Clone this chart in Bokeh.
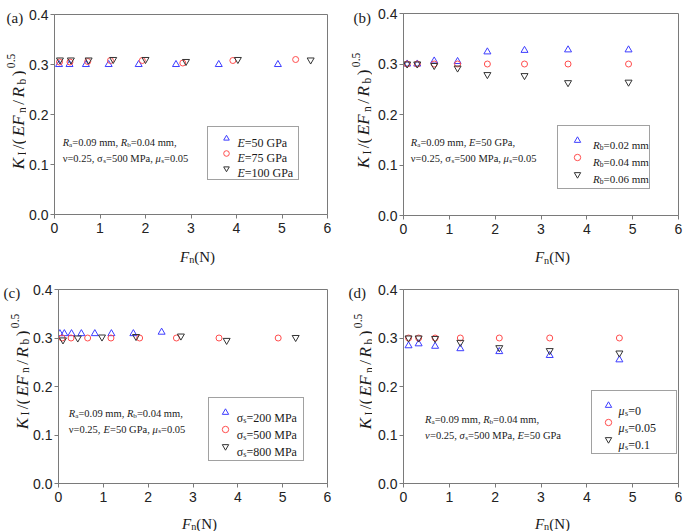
import math
from bokeh.plotting import figure
from bokeh.models import Label, Legend, LegendItem, Range1d, FixedTicker
from bokeh.layouts import column, row
from bokeh.embed import file_html
from bokeh.resources import INLINE
from bokeh.core.properties import value

# ---------------- data ----------------
X_TICKS = [0, 1, 2, 3, 4, 5, 6]
Y_TICKS = [0.0, 0.1, 0.2, 0.3, 0.4]
Y_TICK_LABELS = ["0.0", "0.1", "0.2", "0.3", "0.4"]

# (a) effect of E
a_x_e50 = [0.10, 0.33, 0.69, 1.19, 1.85, 2.67, 3.61, 4.91]
a_y_e50 = [0.300, 0.300, 0.300, 0.300, 0.300, 0.300, 0.300, 0.300]
a_x_e75 = [0.11, 0.34, 0.73, 1.23, 1.93, 2.82, 3.92, 5.30]
a_y_e75 = [0.305, 0.305, 0.306, 0.308, 0.308, 0.303, 0.308, 0.310]
a_x_e100 = [0.12, 0.36, 0.75, 1.29, 2.00, 2.89, 4.03, 5.63]
a_y_e100 = [0.309, 0.309, 0.309, 0.310, 0.310, 0.306, 0.310, 0.309]

# (b) effect of Rb
b_x = [0.08, 0.30, 0.67, 1.18, 1.83, 2.64, 3.59, 4.91]
b_y_002 = [0.300, 0.300, 0.306, 0.305, 0.324, 0.327, 0.328, 0.328]
b_y_004 = [0.300, 0.300, 0.300, 0.300, 0.300, 0.300, 0.300, 0.300]
b_y_006 = [0.300, 0.300, 0.297, 0.292, 0.279, 0.277, 0.263, 0.264]

# (c) effect of sigma_s
c_x_200 = [0.03, 0.13, 0.29, 0.51, 0.81, 1.18, 1.67, 2.30]
c_y_200 = [0.309, 0.309, 0.309, 0.309, 0.309, 0.309, 0.309, 0.312]
c_x_500 = [0.08, 0.28, 0.65, 1.17, 1.81, 2.63, 3.58, 4.90]
c_y_500 = [0.300, 0.300, 0.300, 0.300, 0.300, 0.300, 0.300, 0.300]
c_x_800 = [0.10, 0.43, 0.97, 1.73, 2.73, 3.75, 5.29]
c_y_800 = [0.296, 0.300, 0.302, 0.303, 0.304, 0.295, 0.301]

# (d) effect of mu_s
d_x = [0.11, 0.33, 0.69, 1.24, 2.09, 3.19, 4.71]
d_y_0 = [0.284, 0.288, 0.283, 0.278, 0.272, 0.264, 0.255]
d_y_005 = [0.300, 0.300, 0.300, 0.300, 0.300, 0.300, 0.300]
d_y_01 = [0.300, 0.300, 0.299, 0.291, 0.280, 0.274, 0.269]

# ---------------- style ----------------
BLUE = "#3d3dff"
RED = "#ff4d4d"
DARK = "#333333"
INK = "#1a1a1a"
FRAME = "#7a7a7a"
SERIF = "Liberation Serif"
SANS = "Liberation Sans"

REG = {' ': 0.25, '(': 0.333, ')': 0.333, ',': 0.25, '.': 0.25, '/': 0.278, '=': 0.564,
       'A': 0.722, 'E': 0.611, 'F': 0.556, 'G': 0.722, 'I': 0.333, 'K': 0.722, 'M': 0.889,
       'N': 0.722, 'P': 0.556, 'R': 0.667, 'a': 0.444, 'b': 0.5, 'c': 0.444, 'd': 0.5,
       'm': 0.778, 'n': 0.5, 's': 0.389, 'ν': 0.5, 'σ': 0.55, 'μ': 0.58}
ITA = {'E': 0.611, 'F': 0.611, 'K': 0.667, 'R': 0.611, 'ν': 0.47, 'σ': 0.55, 'μ': 0.55}


def tw(text, italic):
    t = ITA if italic else REG
    return sum(t.get(c, REG.get(c, 0.5)) for c in text)


def rich(p, runs, x, y, size, dx=0.0, dy=0.0, angle=0.0, gap=0.0, align="left"):
    items = []
    total = 0.0
    for text, st in runs:
        it = st in ("i", "isub")
        small = st in ("sub", "isub", "sup")
        fs = size * 0.68 if small else size
        sh = -0.22 * size if st in ("sub", "isub") else (0.42 * size if st == "sup" else 0.0)
        items.append((text, it, fs, sh, total))
        total += tw(text, it) * fs + gap
    total -= gap
    start = -total / 2.0 if align == "center" else 0.0
    for text, it, fs, sh, pos in items:
        a = start + pos
        if angle:
            ox, oy = dx - sh, dy + a
        else:
            ox, oy = dx + a, dy + sh
        p.add_layout(Label(x=x, y=y, x_offset=ox, y_offset=oy, text=text, angle=angle,
                           text_font=SERIF, text_font_size=f"{fs:.1f}px",
                           text_font_style="italic" if it else "normal",
                           text_color=INK, text_align="left", text_baseline="alphabetic"))


def strip(w, h):
    s = figure(width=w, height=h, x_range=Range1d(0, w), y_range=Range1d(0, h),
               min_border=0, x_axis_location=None, y_axis_location=None,
               output_backend="svg", toolbar_location=None, tools="")
    s.grid.visible = False
    s.outline_line_color = None
    s.background_fill_color = "white"
    s.border_fill_color = "white"
    return s


def make_panel(bl, fw, br, bt, fh, bb):
    p = figure(frame_width=fw, frame_height=fh, min_border_left=bl, min_border_right=br,
               min_border_top=bt, min_border_bottom=bb, x_range=Range1d(0, 6),
               y_range=Range1d(0, 0.4), output_backend="svg", toolbar_location=None,
               tools="")
    p.grid.visible = False
    p.outline_line_color = FRAME
    p.outline_line_width = 1
    p.background_fill_color = "white"
    p.border_fill_color = "white"
    for ax in (p.xaxis[0], p.yaxis[0]):
        ax.axis_line_color = FRAME
        ax.major_tick_line_color = FRAME
        ax.major_tick_out = 4
        ax.major_tick_in = 0
        ax.minor_tick_line_color = None
        ax.major_label_text_font = SANS
        ax.major_label_text_font_size = "14px"
        ax.major_label_text_color = "#222222"
    p.xaxis[0].ticker = FixedTicker(ticks=X_TICKS)
    p.yaxis[0].ticker = FixedTicker(ticks=Y_TICKS)
    p.yaxis[0].major_label_overrides = {t: s for t, s in zip(Y_TICKS, Y_TICK_LABELS)}
    p.xaxis[0].major_label_standoff = 4
    p.yaxis[0].major_label_standoff = 2
    return p


def series(p, xs, ys, marker, color):
    size = 6 if marker == "circle" else 7
    return p.scatter(xs, ys, marker=marker, size=size, fill_color=None,
                     line_color=color, line_width=1)


def legend(p, renderers, texts, left, bottom, pad, h, sp, gw, lw, toff, fs):
    items = [LegendItem(label=value(" "), renderers=[r]) for r in renderers]
    lx = left / 6.0 * p.frame_width
    ly = bottom / 0.4 * p.frame_height
    lg = Legend(items=items, location=(int(round(lx)), int(round(ly))), padding=pad,
                spacing=sp, glyph_height=h, label_height=h, glyph_width=gw,
                label_width=lw, label_standoff=0, margin=0,
                label_text_font_size="1px", border_line_color="#444444",
                border_line_width=1, background_fill_alpha=0.0)
    p.add_layout(lg)
    height = 2 * pad + 3 * h + 2 * sp
    top = ly + height
    for i, runs in enumerate(texts):
        cy = top - pad - h / 2.0 - i * (h + sp)
        rich(p, runs, 0, 0, fs, dx=lx + toff, dy=cy - 0.33 * fs)


YLAB = [("K", "i"), ("I", "sub"), ("/(", "n"), ("EF", "i"), ("n", "sub"), ("/", "n"),
        ("R", "i"), ("b", "sub"), (")", "n"), ("0.5", "sup")]
XLAB = [("F", "i"), ("n", "sub"), ("(N)", "n")]


def side_strip(w, h, tag, tag_x, tag_y, ylab_x, ylab_y):
    s = strip(w, h)
    rich(s, [(tag, "n")], tag_x, tag_y, 15)
    rich(s, YLAB, ylab_x, ylab_y, 17, angle=math.pi / 2, gap=2.5, align="center")
    return s


def bottom_strip(w, h, cx, base):
    s = strip(w, h)
    rich(s, XLAB, cx, base, 15, align="center")
    return s


# ---------------- panels ----------------
pa = make_panel(28, 273, 13, 14, 200, 26)
pb = make_panel(31, 275, 5, 13, 202, 25)
pc = make_panel(28, 269, 13, 24, 194, 26)
pd = make_panel(31, 275, 5, 24, 194, 26)

# (a)
ra1 = series(pa, a_x_e50, a_y_e50, "triangle", BLUE)
ra2 = series(pa, a_x_e75, a_y_e75, "circle", RED)
ra3 = series(pa, a_x_e100, a_y_e100, "inverted_triangle", DARK)
legend(pa, [ra1, ra2, ra3],
       [[("E", "i"), ("=50 GPa", "n")], [("E", "i"), ("=75 GPa", "n")],
        [("E", "i"), ("=100 GPa", "n")]],
       3.36, 0.068, 4, 14, 1, 28, 54, 30, 12)
rich(pa, [("R", "i"), ("a", "sub"), ("=0.09 mm, ", "n"), ("R", "i"), ("b", "sub"),
          ("=0.04 mm,", "n")], 0.18, 0.144, 10.5)
rich(pa, [("ν=0.25, σ", "n"), ("s", "sub"), ("=500 MPa, ", "n"), ("μ", "i"), ("s", "sub"),
          ("=0.05", "n")], 0.18, 0.112, 10.5)

# (b)
rb1 = series(pb, b_x, b_y_002, "triangle", BLUE)
rb2 = series(pb, b_x, b_y_004, "circle", RED)
rb3 = series(pb, b_x, b_y_006, "inverted_triangle", DARK)
legend(pb, [rb1, rb2, rb3],
       [[("R", "i"), ("b", "sub"), ("=0.02 mm", "n")],
        [("R", "i"), ("b", "sub"), ("=0.04 mm", "n")],
        [("R", "i"), ("b", "sub"), ("=0.06 mm", "n")]],
       3.35, 0.051, 6, 16, 1, 26, 53, 36, 11)
rich(pb, [("R", "i"), ("a", "sub"), ("=0.09 mm, ", "n"), ("E", "i"), ("=50 GPa,", "n")],
     0.16, 0.145, 10.5)
rich(pb, [("ν=0.25, σ", "n"), ("s", "sub"), ("=500 MPa, ", "n"), ("μ", "i"), ("s", "sub"),
          ("=0.05", "n")], 0.16, 0.112, 10.5)

# (c)
rc1 = series(pc, c_x_200, c_y_200, "triangle", BLUE)
rc2 = series(pc, c_x_500, c_y_500, "circle", RED)
rc3 = series(pc, c_x_800, c_y_800, "inverted_triangle", DARK)
legend(pc, [rc1, rc2, rc3],
       [[("σ", "n"), ("s", "sub"), ("=200 MPa", "n")],
        [("σ", "n"), ("s", "sub"), ("=500 MPa", "n")],
        [("σ", "n"), ("s", "sub"), ("=800 MPa", "n")]],
       3.35, 0.045, 6, 16, 1, 20, 62, 28, 12)
rich(pc, [("R", "i"), ("a", "sub"), ("=0.09 mm, ", "n"), ("R", "i"), ("b", "sub"),
          ("=0.04 mm,", "n")], 0.23, 0.144, 10.5)
rich(pc, [("ν=0.25, ", "n"), ("E", "i"), ("=50 GPa, ", "n"), ("μ", "i"), ("s", "sub"),
          ("=0.05", "n")], 0.23, 0.112, 10.5)

# (d)
rd1 = series(pd, d_x, d_y_0, "triangle", BLUE)
rd2 = series(pd, d_x, d_y_005, "circle", RED)
rd3 = series(pd, d_x, d_y_01, "inverted_triangle", DARK)
legend(pd, [rd1, rd2, rd3],
       [[("μ", "i"), ("s", "sub"), ("=0", "n")],
        [("μ", "i"), ("s", "sub"), ("=0.05", "n")],
        [("μ", "i"), ("s", "sub"), ("=0.1", "n")]],
       4.10, 0.059, 6, 16, 1, 20, 52, 27, 12)
rich(pd, [("R", "i"), ("a", "sub"), ("=0.09 mm, ", "n"), ("R", "i"), ("b", "sub"),
          ("=0.04 mm,", "n")], 0.47, 0.132, 10.5)
rich(pd, [("ν", "i"), ("=0.25, ", "n"), ("σ", "i"), ("s", "sub"), ("=500 MPa, ", "n"),
          ("E", "i"), ("=50 GPa", "n")], 0.47, 0.099, 10.5)

# ---------------- label strips (axis titles and panel tags) ----------------
sa = side_strip(26, 265, "(a)", 6, 248, 18, 154)
xa = bottom_strip(314, 25, 164.5, 9)
sb = side_strip(32, 265, "(b)", 13, 248, 23, 155)
xb = bottom_strip(311, 25, 168.5, 8.3)
sc = side_strip(30, 266, "(c)", 3, 239, 21.7, 160)
xc = bottom_strip(310, 22, 162.5, 8)
sd = side_strip(32, 266, "(d)", 8, 239, 25, 160)
xd = bottom_strip(311, 22, 168.5, 8)

layout = column(
    row(sa, column(pa, xa), sb, column(pb, xb)),
    row(sc, column(pc, xc), sd, column(pd, xd)),
)
open("out.html", "w").write(file_html(layout, INLINE))
